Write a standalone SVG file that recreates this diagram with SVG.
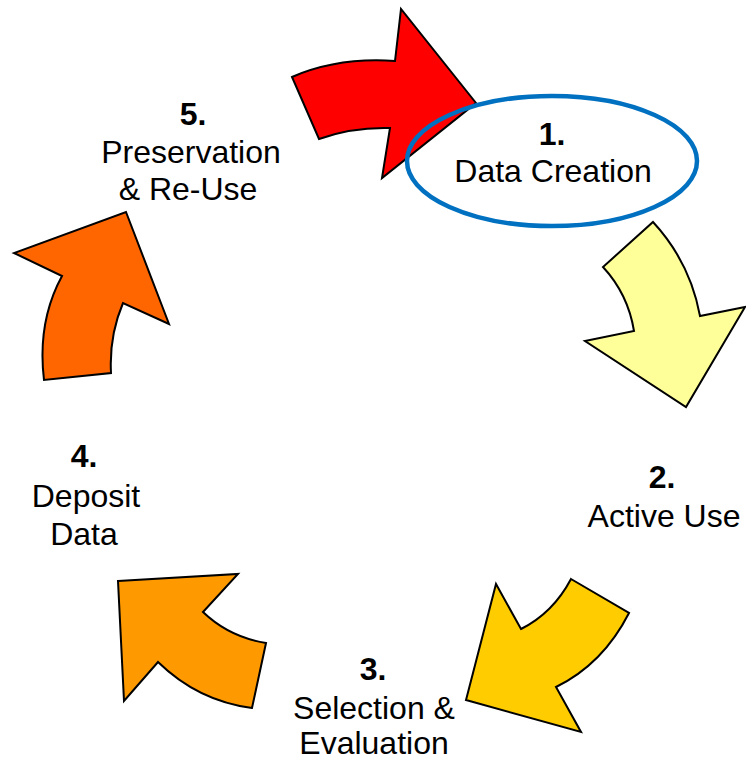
<svg xmlns="http://www.w3.org/2000/svg" width="746" height="760" viewBox="0 0 746 760">
<style>
.arr{stroke:#000;stroke-width:2;stroke-linejoin:miter}
.t{font-family:"Liberation Sans",Arial,sans-serif;font-size:32px;fill:#000;text-anchor:middle}
.b{font-weight:bold}
</style>
<rect width="746" height="760" fill="#fff"/>
<g id="connectors">
<path id="arrow-red" class="arr" fill="#FF0000" d="M292,77 Q338,57 395,61 L401,9 L476,103 L382,178 L390,128 Q352,127 319,139 Z"/>
<path id="arrow-yellow" class="arr" fill="#FFFF99" d="M653,222 Q690,262 700,316 L745,307 L686,407 L585,341 L634,331 Q628,294 603,267 Z"/>
<path id="arrow-gold" class="arr" fill="#FFCC00" d="M571,579 L629,613 Q603,664 556,687 L581,732 L466,700 L496,584 L521,629 Q553,613 571,579 Z"/>
<path id="arrow-orange" class="arr" fill="#FF9900" d="M118,581 L238,574 L203,612 Q229,637 266,643 L252,708 Q198,701 158,662 L124,701 Z"/>
<path id="arrow-darkorange" class="arr" fill="#FF6600" d="M126,212 L169,324 L123,303 Q109,336 111,373 L44,380 Q37,322 62,276 L14,253 Z"/>
</g>
<g id="node1">
<ellipse cx="552" cy="161" rx="145" ry="65" fill="none" stroke="#0070C0" stroke-width="4.5"/>
<text class="t b" x="552" y="145">1.</text>
<text class="t" x="553" y="182">Data Creation</text>
</g>
<g id="node2">
<text class="t b" x="662" y="488">2.</text>
<text class="t" x="664" y="527">Active Use</text>
</g>
<g id="node3">
<text class="t b" x="373" y="680">3.</text>
<text class="t" x="374" y="719">Selection &amp;</text>
<text class="t" x="374" y="754">Evaluation</text>
</g>
<g id="node4">
<text class="t b" x="84" y="467">4.</text>
<text class="t" x="86" y="507">Deposit</text>
<text class="t" x="84" y="545">Data</text>
</g>
<g id="node5">
<text class="t b" x="193" y="125">5.</text>
<text class="t" x="191" y="163">Preservation</text>
<text class="t" x="188" y="200">&amp; Re-Use</text>
</g>
</svg>
